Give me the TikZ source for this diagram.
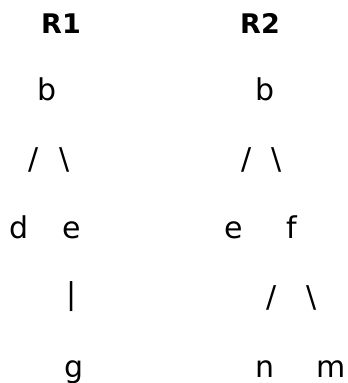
\documentclass[tikz,border=0pt]{standalone}
\usepackage{fontspec}
\setmainfont{DejaVu Sans}
\begin{document}
\begin{tikzpicture}[x=1pt,y=-1pt,
  lbl/.style={inner sep=0pt,anchor=base,font=\fontsize{30}{34}\selectfont},
  edge/.style={inner sep=0pt,anchor=center,font=\fontsize{30}{34}\selectfont},
  head/.style={inner sep=0pt,anchor=base,font=\fontsize{27}{30}\selectfont\bfseries}]
\useasboundingbox (0,0) rectangle (348,383);
% titles
\node[head] (r1) at (61,33) {R1};
\node[head] (r2) at (260,33) {R2};
% R1 tree
\node[lbl] (b1) at (47,100) {b};
\node[edge] (s1) at (34,160) {/};
\node[edge] (t1) at (65,160) {\textbackslash};
\node[lbl] (d1) at (19,238) {d};
\node[lbl] (e1) at (72,238) {e};
\node[edge] (v1) at (72,297) {|};
\node[lbl] (g1) at (74,377) {g};
% R2 tree
\node[lbl] (b2) at (265,100) {b};
\node[edge] (s2) at (247,160) {/};
\node[edge] (t2) at (277,160) {\textbackslash};
\node[lbl] (e2) at (234,238) {e};
\node[lbl] (f2) at (292,238) {f};
\node[edge] (s3) at (272,298) {/};
\node[edge] (t3) at (312,298) {\textbackslash};
\node[lbl] (n2) at (265,377) {n};
\node[lbl] (m2) at (331,377) {m};
\end{tikzpicture}
\end{document}
